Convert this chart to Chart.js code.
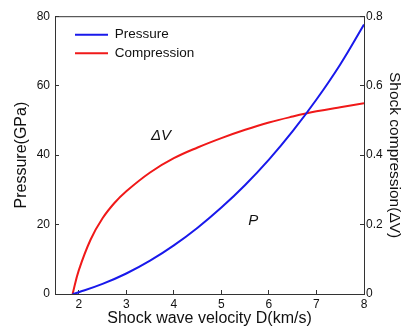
<!DOCTYPE html>
<html>
<head>
<meta charset="utf-8">
<script src="https://cdn.jsdelivr.net/npm/chart.js@4/dist/chart.umd.min.js"></script>
<style>
  body { margin: 0; background: #fff; }
  #wrap { width: 404px; height: 329px; }
</style>
</head>
<body>
<div id="wrap"><canvas id="myChart" width="404" height="329"></canvas></div>
<script>
// shock wave velocity D (km/s) vs pressure / compression
let pressureVel = [1.87, 2, 2.5, 3, 3.5, 4, 4.5, 5, 5.5, 6, 6.5, 7, 7.5, 8];
let pressure = [0, 0.5, 2.9, 5.9, 9.6, 14.0, 19.1, 24.9, 31.4, 38.7, 46.9, 56.0, 66.1, 77.6];
let compressionVel = [1.87, 2, 2.25, 2.5, 2.75, 3, 3.5, 4, 4.5, 5, 5.5, 6, 6.5, 7, 7.5, 8];
let compression = [0, 0.068, 0.157, 0.218, 0.262, 0.296, 0.35, 0.391, 0.422, 0.449, 0.473, 0.494, 0.511, 0.526, 0.538, 0.549];
let xTicks = [2, 3, 4, 5, 6, 7, 8];
let leftTicks = [0, 20, 40, 60, 80];
let rightTicks = [0, 0.2, 0.4, 0.6, 0.8];
let notes = [
    { text: "\u0394V", x: 3.73, y: 45.6 },
    { text: "P", x: 5.67, y: 21 }
];

const fontFam = "'Liberation Sans', Arial, sans-serif";
const axisColor = "#333";

const toPoints = (xs, ys) => xs.map((x, i) => ({ x: x, y: ys[i] }));

const frameTop = {
    id: "frameTop",
    afterLayout(chart) {
        // move the legend into the upper-left corner of the plot
        chart.legend.left += 15;
        chart.legend.top += 23;
    },
    afterDatasetsDraw(chart) {
        const { ctx, chartArea, scales } = chart;
        ctx.save();
        ctx.strokeStyle = axisColor;
        ctx.lineWidth = 1;
        ctx.beginPath();
        ctx.moveTo(chartArea.left, chartArea.top + 0.5);
        ctx.lineTo(chartArea.right, chartArea.top + 0.5);
        ctx.stroke();
        ctx.fillStyle = "#111";
        ctx.font = "italic 15px " + fontFam;
        ctx.textAlign = "center";
        ctx.textBaseline = "middle";
        notes.forEach((n) => {
            ctx.fillText(n.text, scales.x.getPixelForValue(n.x), scales.y.getPixelForValue(n.y));
        });
        ctx.restore();
    }
};

const tickFont = { family: fontFam, size: 12 };

var myChart = new Chart(document.getElementById("myChart"), {
    type: "line",
    data: {
        datasets: [
            {
                label: "Pressure",
                data: toPoints(pressureVel, pressure),
                borderColor: "rgb(25,25,235)",
                backgroundColor: "rgb(25,25,235)",
                borderWidth: 2,
                pointRadius: 0,
                tension: 0.4,
                yAxisID: "y"
            },
            {
                label: "Compression",
                data: toPoints(compressionVel, compression),
                borderColor: "rgb(240,25,25)",
                backgroundColor: "rgb(240,25,25)",
                borderWidth: 2,
                pointRadius: 0,
                tension: 0.4,
                yAxisID: "y2"
            }
        ]
    },
    options: {
        responsive: false,
        animation: false,
        devicePixelRatio: 1,
        layout: { padding: { top: 15, left: 0, right: 0, bottom: 0 } },
        plugins: {
            tooltip: { enabled: false },
            legend: {
                position: "chartArea",
                align: "start",
                labels: {
                    usePointStyle: true,
                    pointStyle: "line",
                    pointStyleWidth: 33,
                    padding: 5,
                    color: "#111",
                    font: { family: fontFam, size: 13.5 }
                }
            }
        },
        scales: {
            x: {
                type: "linear",
                min: 1.5,
                max: 8,
                afterBuildTicks: (s) => { s.ticks = xTicks.map((v) => ({ value: v })); },
                afterFit: (s) => { s.height = 35; },
                grid: { drawOnChartArea: false, tickLength: -4, color: axisColor },
                border: { color: axisColor, width: 1 },
                ticks: { padding: 7, color: "#111", font: tickFont },
                title: {
                    display: true,
                    text: "Shock wave velocity D(km/s)",
                    color: "#111",
                    font: { family: fontFam, size: 16 },
                    padding: { top: 0, bottom: 1 }
                }
            },
            y: {
                position: "left",
                min: 0,
                max: 80,
                afterBuildTicks: (s) => { s.ticks = leftTicks.map((v) => ({ value: v })); },
                afterFit: (s) => { s.width = 55; },
                grid: { drawOnChartArea: false, tickLength: -4, color: axisColor },
                border: { color: axisColor, width: 1 },
                ticks: { padding: 9, color: "#111", font: tickFont },
                title: {
                    display: true,
                    text: "Pressure(GPa)",
                    color: "#111",
                    font: { family: fontFam, size: 16 },
                    padding: { top: 12, bottom: 0 }
                }
            },
            y2: {
                position: "right",
                min: 0,
                max: 0.8,
                afterBuildTicks: (s) => { s.ticks = rightTicks.map((v) => ({ value: v })); },
                afterFit: (s) => { s.width = 40; },
                grid: { drawOnChartArea: false, tickLength: -4, color: axisColor },
                border: { color: axisColor, width: 1 },
                ticks: { padding: 6, color: "#111", font: tickFont },
                title: {
                    display: true,
                    text: "Shock compression(\u0394V)",
                    color: "#111",
                    font: { family: fontFam, size: 15.5 },
                    padding: { top: 0, bottom: 0 }
                }
            }
        }
    },
    plugins: [frameTop]
});
</script>
</body>
</html>
